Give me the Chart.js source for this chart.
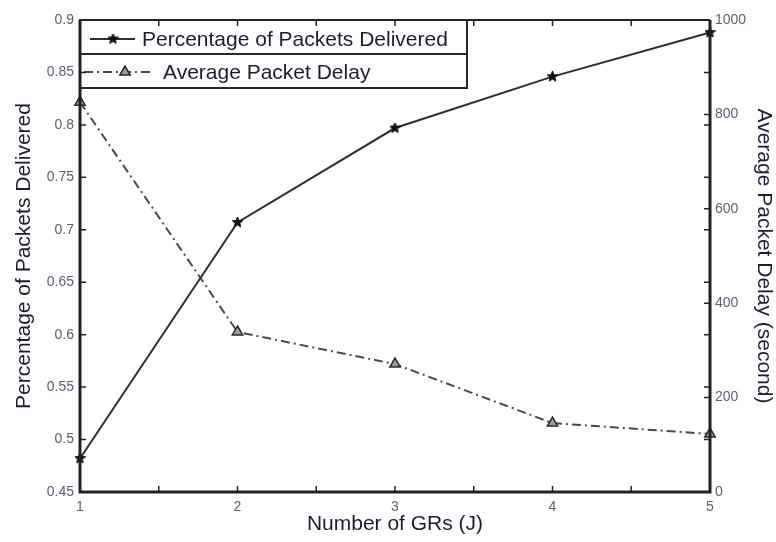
<!DOCTYPE html>
<html lang="en">
<head>
    <meta charset="UTF-8">
    <title>Packets Delivered vs Delay</title>
    <script src="https://cdn.jsdelivr.net/npm/chart.js"></script>
    <style>
        html, body { margin: 0; padding: 0; background: #fff; }
        #wrap { width: 776px; height: 542px; }
    </style>
</head>
<body>
    <div id="wrap"><canvas id="grChart" width="776" height="542"></canvas></div>

    <script>
        // number of GRs (J)
        const numGRs = [1, 2, 3, 4, 5];
        // fraction of packets delivered (left axis)
        const delivered = [0.482, 0.707, 0.797, 0.846, 0.888];
        // average packet delay in seconds (right axis)
        const avgDelay = [826, 339, 271, 146, 123];

        const leftTicks = [0.45, 0.5, 0.55, 0.6, 0.65, 0.7, 0.75, 0.8, 0.85, 0.9];
        const rightTicks = [0, 200, 400, 600, 800, 1000];
        const xTicks = [1, 1.5, 2, 2.5, 3, 3.5, 4, 4.5, 5];

        const FONT = "'Liberation Sans', Arial, Helvetica, sans-serif";
        const tickColor = '#5c5c7c';
        const titleColor = '#1c1c34';

        // small filled pentagram used as point marker
        function makeStar(size) {
            const c = document.createElement('canvas');
            c.width = size; c.height = size;
            const g = c.getContext('2d');
            const cx = size / 2, cy = size / 2, ro = size / 2, ri = ro * 0.45;
            g.beginPath();
            for (let i = 0; i < 10; i++) {
                const r = i % 2 === 0 ? ro : ri;
                const a = -Math.PI / 2 + i * Math.PI / 5;
                g.lineTo(cx + r * Math.cos(a), cy + r * Math.sin(a));
            }
            g.closePath();
            g.fillStyle = '#111';
            g.fill();
            g.strokeStyle = '#111';
            g.lineWidth = 1;
            g.stroke();
            return c;
        }
        const starImg = makeStar(11);

        // frame + inward ticks, like a matlab plotyy box
        const framePlugin = {
            id: 'frame',
            afterDraw(chart) {
                const { ctx, chartArea: a, scales } = chart;
                const x = scales.x, yl = scales.y, yr = scales.y1;
                const len = 6;
                ctx.save();
                ctx.strokeStyle = '#222';
                ctx.lineWidth = 1.5;
                ctx.beginPath();
                xTicks.forEach(v => {
                    const px = x.getPixelForValue(v);
                    ctx.moveTo(px, a.bottom); ctx.lineTo(px, a.bottom - len);
                    ctx.moveTo(px, a.top); ctx.lineTo(px, a.top + len);
                });
                leftTicks.forEach(v => {
                    const py = yl.getPixelForValue(v);
                    ctx.moveTo(a.left, py); ctx.lineTo(a.left + len, py);
                    ctx.moveTo(a.right, py); ctx.lineTo(a.right - len, py);
                });
                rightTicks.forEach(v => {
                    const py = yr.getPixelForValue(v);
                    ctx.moveTo(a.right, py); ctx.lineTo(a.right - len, py);
                });
                ctx.stroke();

                ctx.lineWidth = 3;
                ctx.beginPath();
                ctx.moveTo(a.left, a.top);
                ctx.lineTo(a.left, a.bottom);
                ctx.lineTo(a.right, a.bottom);
                ctx.lineTo(a.right, a.top);
                ctx.stroke();
                ctx.lineWidth = 2;
                ctx.beginPath();
                ctx.moveTo(a.left, a.top);
                ctx.lineTo(a.right, a.top);
                ctx.stroke();
                ctx.restore();
            }
        };

        // boxed legend in the top-left corner
        const boxLegend = {
            id: 'boxLegend',
            afterDatasetsDraw(chart) {
                const { ctx, chartArea: a } = chart;
                const ds = chart.data.datasets;
                const left = a.left, right = 467, top = a.top, mid = 54, bottom = 88;
                ctx.save();
                ctx.fillStyle = '#fff';
                ctx.fillRect(left, top, right - left, bottom - top);
                ctx.strokeStyle = '#2a2a2a';
                ctx.lineWidth = 2;
                ctx.strokeRect(left, top, right - left, bottom - top);
                ctx.beginPath();
                ctx.moveTo(left, mid); ctx.lineTo(right, mid);
                ctx.stroke();

                // row 1: solid line with star
                ctx.strokeStyle = ds[0].borderColor;
                ctx.lineWidth = ds[0].borderWidth;
                ctx.setLineDash([]);
                ctx.beginPath();
                ctx.moveTo(90, 39); ctx.lineTo(135, 39);
                ctx.stroke();
                ctx.drawImage(starImg, 113 - starImg.width / 2, 39 - starImg.height / 2);

                // row 2: dash-dot line with triangle
                ctx.strokeStyle = ds[1].borderColor;
                ctx.lineWidth = ds[1].borderWidth;
                ctx.setLineDash(ds[1].borderDash);
                ctx.beginPath();
                ctx.moveTo(84, 72); ctx.lineTo(154, 72);
                ctx.stroke();
                ctx.setLineDash([]);
                ctx.fillStyle = ds[1].pointBackgroundColor;
                ctx.strokeStyle = ds[1].pointBorderColor;
                ctx.lineWidth = ds[1].pointBorderWidth;
                Chart.helpers.drawPoint(ctx, {
                    pointStyle: 'triangle', radius: ds[1].pointRadius, rotation: 0, borderWidth: ds[1].pointBorderWidth
                }, 125, 72);

                ctx.fillStyle = titleColor;
                ctx.font = '21px ' + FONT;
                ctx.textBaseline = 'middle';
                ctx.fillText(ds[0].label, 142, 40);
                ctx.fillText(ds[1].label, 163, 73);
                ctx.restore();
            }
        };

        const ctx = document.getElementById('grChart').getContext('2d');

        new Chart(ctx, {
            type: 'line',
            data: {
                datasets: [{
                    label: 'Percentage of Packets Delivered',
                    data: numGRs.map((j, i) => ({ x: j, y: delivered[i] })),
                    yAxisID: 'y',
                    borderColor: '#2e2e2e',
                    borderWidth: 2,
                    pointStyle: starImg,
                    pointRadius: 5,
                    tension: 0,
                    clip: false
                }, {
                    label: 'Average Packet Delay',
                    data: numGRs.map((j, i) => ({ x: j, y: avgDelay[i] })),
                    yAxisID: 'y1',
                    borderColor: '#4a4a4a',
                    borderWidth: 2,
                    borderDash: [9, 4, 2, 4],
                    pointStyle: 'triangle',
                    pointRadius: 6,
                    pointBorderWidth: 1.5,
                    pointBorderColor: '#2a2a2a',
                    pointBackgroundColor: '#9a9a9a',
                    tension: 0,
                    clip: false
                }]
            },
            options: {
                responsive: false,
                animation: false,
                layout: { padding: { top: 20, left: 0, right: 0, bottom: 0 } },
                plugins: {
                    legend: { display: false },
                    tooltip: { enabled: false }
                },
                scales: {
                    x: {
                        type: 'linear',
                        min: 1,
                        max: 5,
                        afterFit: s => { s.height = 50; },
                        afterBuildTicks: s => { s.ticks = xTicks.map(v => ({ value: v })); },
                        grid: { display: false, drawTicks: false },
                        border: { display: false },
                        ticks: {
                            autoSkip: false,
                            maxRotation: 0,
                            padding: 7,
                            color: tickColor,
                            font: { family: FONT, size: 14 },
                            callback: v => Number.isInteger(v) ? String(v) : ''
                        },
                        title: {
                            display: true,
                            text: 'Number of GRs (J)',
                            color: titleColor,
                            font: { family: FONT, size: 21 },
                            padding: { top: 0, bottom: 5 }
                        }
                    },
                    y: {
                        position: 'left',
                        min: 0.45,
                        max: 0.9,
                        afterFit: s => { s.width = 80; },
                        afterBuildTicks: s => { s.ticks = leftTicks.map(v => ({ value: v })); },
                        grid: { display: false, drawTicks: false },
                        border: { display: false },
                        ticks: {
                            padding: 6,
                            color: tickColor,
                            font: { family: FONT, size: 14 },
                            callback: v => String(parseFloat(v.toFixed(2)))
                        },
                        title: {
                            display: true,
                            text: 'Percentage of Packets Delivered',
                            color: titleColor,
                            font: { family: FONT, size: 21 },
                            padding: { top: 12, bottom: 0 }
                        }
                    },
                    y1: {
                        position: 'right',
                        min: 0,
                        max: 1000,
                        afterFit: s => { s.width = 66; },
                        afterBuildTicks: s => { s.ticks = rightTicks.map(v => ({ value: v })); },
                        grid: { display: false, drawTicks: false },
                        border: { display: false },
                        ticks: {
                            padding: 5,
                            color: tickColor,
                            font: { family: FONT, size: 14 },
                            callback: v => String(v)
                        },
                        title: {
                            display: true,
                            text: 'Average Packet Delay (second)',
                            color: titleColor,
                            font: { family: FONT, size: 21 },
                            padding: { top: 0, bottom: 0 }
                        }
                    }
                }
            },
            plugins: [framePlugin, boxLegend]
        });
    </script>
</body>
</html>
